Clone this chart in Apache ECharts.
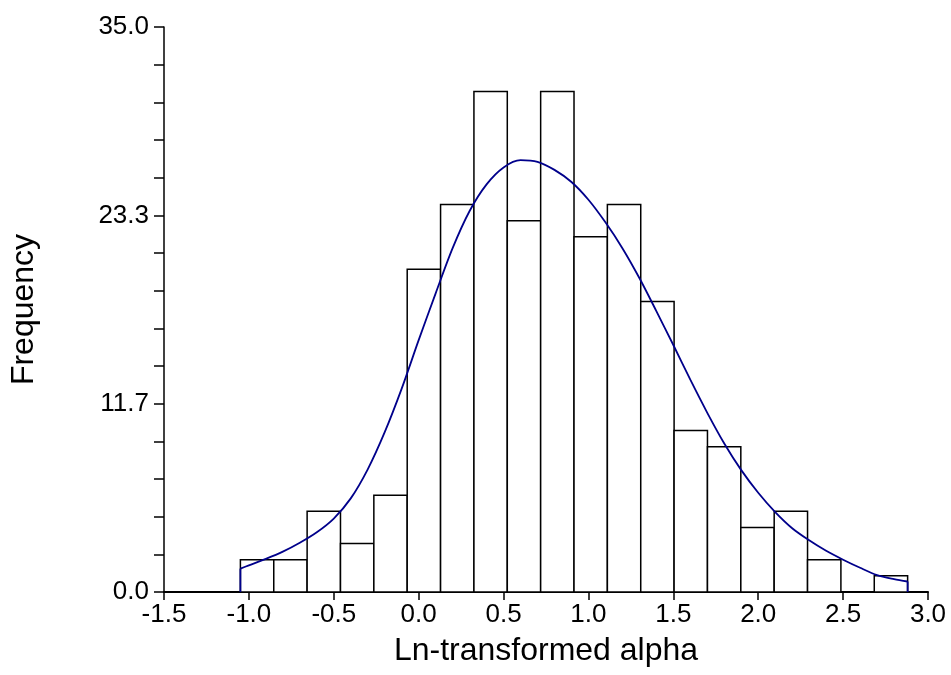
<!DOCTYPE html>
<html><head><meta charset="utf-8">
<script src="https://cdn.jsdelivr.net/npm/echarts@6/dist/echarts.min.js"></script>
<style>html,body{margin:0;padding:0;background:#fff}#c{width:951px;height:675px}</style>
</head><body><div id="c"></div>
<script>
// Histogram bins
const binStart = -1.05;
const binWidth = 0.1965;
const counts = [2, 2, 5, 3, 6, 20, 24, 31, 23, 31, 22, 24, 18, 10, 9, 4, 5, 2, 0, 1];

// Fitted density curve (scaled to frequency)
const curveX = [-1.05, -1.0, -0.9, -0.8, -0.7, -0.6, -0.5, -0.4, -0.3, -0.2, -0.1, 0.0, 0.1, 0.2, 0.3, 0.4, 0.5, 0.6, 0.7, 0.8, 0.9, 1.0, 1.1, 1.2, 1.3, 1.4, 1.5, 1.6, 1.7, 1.8, 1.9, 2.0, 2.1, 2.2, 2.3, 2.4, 2.5, 2.6, 2.7, 2.8, 2.88];
const curveY = [1.45, 1.65, 2.05, 2.5, 3.05, 3.7, 4.55, 5.8, 7.6, 9.9, 12.6, 15.6, 18.5, 21.3, 23.6, 25.25, 26.3, 26.75, 26.65, 26.15, 25.4, 24.3, 22.9, 21.3, 19.45, 17.4, 15.3, 13.15, 11.1, 9.2, 7.55, 6.15, 4.95, 3.95, 3.2, 2.55, 2.0, 1.5, 1.05, 0.8, 0.65];

// Axis ticks
const xMin = -1.5, xMax = 3.0, xStep = 0.5;
const yTickLabels = ['0.0', '11.7', '23.3', '35.0'];
const yMax = 35.0;

const FONT = "'Liberation Sans', Arial, Helvetica, sans-serif";

const histData = counts.map((c, i) => [binStart + i * binWidth, binStart + (i + 1) * binWidth, c]);
const curveData = curveX.map((x, i) => [x, curveY[i]]);
const startEdge = [[curveX[0], 0], [curveX[0], curveY[0]]];
const endEdge = [[curveX[curveX.length - 1], curveY[curveY.length - 1]], [curveX[curveX.length - 1], 0]];

const chart = echarts.init(document.getElementById('c'), null, {renderer: 'canvas'});
chart.setOption({
  animation: false,
  backgroundColor: '#fff',
  grid: {left: 162, right: 23, top: 27, bottom: 83, containLabel: false},
  xAxis: {
    type: 'value', min: xMin, max: xMax, interval: xStep,
    name: 'Ln-transformed alpha', nameLocation: 'middle', nameGap: 43,
    nameTextStyle: {fontFamily: FONT, fontSize: 32, color: '#000'},
    axisLine: {show: true, onZero: false, lineStyle: {color: '#000', width: 2}},
    axisTick: {show: true, inside: false, length: 8, lineStyle: {color: '#000', width: 1.5}},
    axisLabel: {show: true, margin: 10, fontFamily: FONT, fontSize: 26, color: '#000',
      formatter: v => v.toFixed(1)},
    splitLine: {show: false}
  },
  yAxis: {
    type: 'value', min: 0, max: yMax, interval: yMax / 3,
    name: 'Frequency', nameLocation: 'middle', nameGap: 124, nameRotate: 90,
    nameTextStyle: {fontFamily: FONT, fontSize: 32, color: '#000'},
    axisLine: {show: true, onZero: false, lineStyle: {color: '#000', width: 1.5}},
    axisTick: {show: true, inside: false, length: 10, lineStyle: {color: '#000', width: 1.5}},
    minorTick: {show: true, splitNumber: 5, length: 10, lineStyle: {color: '#000', width: 1.5}},
    axisLabel: {show: true, margin: 15, fontFamily: FONT, fontSize: 26, color: '#000',
      formatter: (v) => yTickLabels[Math.round(v / (yMax / 3))]},
    splitLine: {show: false}
  },
  series: [
    {
      type: 'custom',
      data: histData,
      encode: {x: [0, 1], y: 2},
      z: 2,
      renderItem: function (params, api) {
        const p0 = api.coord([api.value(0), 0]);
        const p1 = api.coord([api.value(1), api.value(2)]);
        return {
          type: 'rect',
          shape: {x: p0[0], y: p1[1], width: p1[0] - p0[0], height: p0[1] - p1[1]},
          style: {fill: '#fff', stroke: '#000', lineWidth: 1.5}
        };
      }
    },
    {
      type: 'line', data: curveData, smooth: 0.3, symbol: 'none', z: 5,
      lineStyle: {color: '#00008b', width: 1.8}
    },
    {
      type: 'line', data: startEdge, symbol: 'none', z: 5,
      lineStyle: {color: '#00008b', width: 1.8}
    },
    {
      type: 'line', data: endEdge, symbol: 'none', z: 5,
      lineStyle: {color: '#00008b', width: 1.8}
    }
  ]
});
</script>
</body></html>
